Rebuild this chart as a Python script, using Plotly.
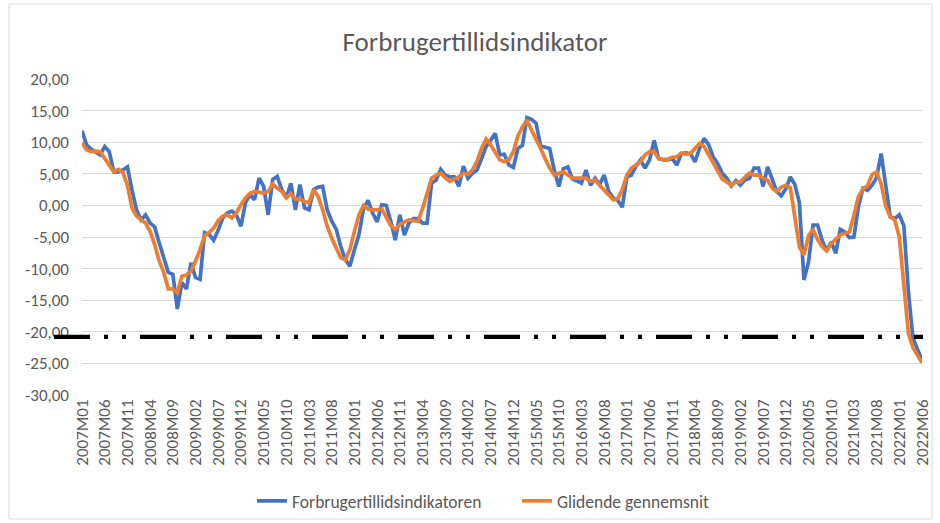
import plotly.graph_objects as go

# Month categories 2007M01 .. 2022M06
months = [f"{y}M{m:02d}" for y in range(2007, 2023) for m in range(1, 13)][:186]

indicator = [
    11.8, 9.6, 8.9, 8.5, 8.0, 9.3, 8.5, 5.3, 5.3, 5.6, 6.1, 2.5,
    -0.7, -2.3, -1.5, -2.8, -3.4, -5.9, -8.3, -10.6, -10.9, -16.4, -12.2, -13.2,
    -9.1, -11.4, -11.7, -4.3, -4.6, -5.5, -3.9, -2.0, -1.2, -0.9, -1.5, -3.3,
    0.4, 1.7, 0.9, 4.3, 3.0, -1.5, 4.1, 4.6, 2.5, 1.2, 3.5, -0.7,
    3.3, -0.4, -0.7, 2.5, 2.9, 3.0, -0.7, -2.5, -3.8, -6.5, -8.6, -9.6,
    -7.0, -4.6, -0.5, 0.8, -1.2, -2.6, 0.1, 0.0, -2.5, -5.5, -1.5, -4.7,
    -2.8, -2.1, -2.1, -2.8, -2.8, 3.5, 4.0, 5.7, 4.8, 4.5, 4.5, 3.0,
    6.2, 4.3, 5.1, 5.6, 7.4, 9.3, 10.3, 11.4, 8.0, 8.1, 6.4, 6.0,
    9.0, 9.5, 13.9, 13.6, 13.0, 9.4, 9.2, 9.0, 5.6, 3.0, 5.8, 6.1,
    4.2, 3.9, 3.5, 5.6, 3.2, 4.3, 3.3, 4.8, 2.2, 1.2, 0.8, -0.3,
    4.5, 4.8, 6.2, 7.2, 5.9, 7.2, 10.3, 7.4, 7.2, 7.2, 7.4, 6.4,
    8.2, 8.3, 8.2, 6.9, 9.0, 10.6, 9.6, 7.7, 6.6, 5.1, 4.3, 3.1,
    3.9, 3.2, 4.0, 4.3, 5.9, 5.9, 3.0, 6.1, 4.3, 2.2, 1.5, 2.6,
    4.5, 3.3, 0.4, -11.8, -9.0, -3.1, -3.1, -5.5, -7.2, -5.8, -7.6, -3.8,
    -4.2, -5.1, -5.0, -0.2, 2.7, 2.4, 3.2, 4.4, 8.2, 3.0, -1.8, -2.1,
    -1.5, -3.2, -13.6, -21.0, -22.9, -24.5,
]

moving_avg = [
    9.9, 8.8, 8.5, 8.6, 8.5, 7.4, 6.4, 5.3, 5.7, 5.2, 3.2, -0.4,
    -1.7, -2.3, -2.8, -4.1, -6.2, -8.8, -10.6, -13.2, -13.2, -13.8, -11.2, -11.0,
    -10.4, -8.8, -7.0, -4.8, -4.3, -3.6, -2.4, -1.7, -1.5, -2.0, -1.2, 0.1,
    1.2, 1.9, 2.2, 2.1, 1.9, 2.2, 3.4, 2.7, 2.2, 1.2, 1.9, 1.0,
    1.0, 0.6, 0.4, 2.5, 1.4, -0.7, -3.3, -5.2, -6.7, -8.3, -8.6, -7.0,
    -4.1, -1.5, 0.0, -0.6, -0.7, -0.7, -0.5, -2.0, -3.2, -3.8, -3.0, -2.6,
    -2.3, -2.4, -2.5, -0.5, 2.0, 4.3, 4.8, 5.1, 4.4, 3.8, 4.2, 4.5,
    5.1, 4.9, 5.6, 7.0, 9.0, 10.5, 9.6, 8.5, 7.2, 6.9, 7.2, 8.5,
    11.0, 12.4, 13.5, 11.9, 10.6, 9.0, 7.4, 5.9, 4.8, 5.1, 5.3, 4.8,
    4.3, 4.3, 4.3, 4.3, 3.8, 4.0, 3.2, 2.5, 1.7, 0.9, 1.1, 2.5,
    4.8, 5.9, 6.4, 6.9, 8.0, 8.5, 8.5, 7.4, 7.3, 7.3, 7.6, 7.7,
    8.3, 8.1, 8.2, 8.9, 9.8, 9.3, 8.0, 6.6, 5.3, 4.2, 3.7, 3.2,
    3.7, 3.7, 4.5, 5.1, 4.8, 4.8, 4.3, 4.0, 2.7, 2.2, 2.9, 3.2,
    2.8, -2.2, -6.6, -7.8, -4.8, -3.8, -5.4, -6.5, -7.2, -6.0, -5.4, -4.7,
    -4.4, -4.2, -1.6, 1.4, 2.6, 3.1, 4.9, 5.3, 3.4, -0.1, -1.8, -2.3,
    -5.0, -12.0, -20.2, -22.5, -23.6, -24.9,
]

reference_level = -20.8

y_tick_vals = [20, 15, 10, 5, 0, -5, -10, -15, -20, -25, -30]
y_tick_text = ["20,00", "15,00", "10,00", "5,00", "0,00", "-5,00", "-10,00",
               "-15,00", "-20,00", "-25,00", "-30,00"]
x_tick_labels = months[::5]

FONT = "Carlito, Lato, sans-serif"
TXT = "#595959"

fig = go.Figure()
fig.add_trace(go.Scatter(x=months, y=indicator, mode="lines",
                         name="Forbrugertillidsindikatoren", legend="legend",
                         line=dict(color="#4472C4", width=3.7)))
fig.add_trace(go.Scatter(x=months, y=moving_avg, mode="lines",
                         name="Glidende gennemsnit", legend="legend2",
                         line=dict(color="#ED7D31", width=3.7)))

# plot area: x 82..922, y 79..395 in a 940x523 canvas
L, R, T, B = 82, 18, 79, 128
W, H = 940 - L - R, 523 - T - B

def px(xp):
    return (xp - L) / W

def py(yp):
    return (523 - B - yp) / H

fig.add_shape(type="line", xref="paper", yref="y",
              x0=px(54), x1=px(923), y0=reference_level, y1=reference_level,
              line=dict(color="black", width=4.3,
                        dash="36px,14px,4px,14px,4px,14px"))
fig.add_shape(type="rect", xref="paper", yref="paper",
              x0=px(9), x1=px(932), y0=py(519), y1=py(4),
              line=dict(color="#d9d9d9", width=1), layer="below")

leg_common = dict(orientation="h", yanchor="middle", xanchor="left",
                  y=py(501), bgcolor="rgba(0,0,0,0)", borderwidth=0,
                  font=dict(family=FONT, size=17.5, color=TXT))

fig.update_layout(
    width=940, height=523,
    margin=dict(l=L, r=R, t=T, b=B, autoexpand=False),
    paper_bgcolor="white", plot_bgcolor="white",
    font=dict(family=FONT, size=17, color=TXT),
    title=dict(text="Forbrugertillidsindikator", x=475 / 940, xanchor="center",
               y=1 - 42 / 523, yanchor="middle",
               font=dict(family=FONT, size=27, color=TXT)),
    showlegend=True,
    legend=dict(x=px(252), **leg_common),
    legend2=dict(x=px(517), **leg_common),
    xaxis=dict(type="category", range=[0, len(months) - 1],
               tickmode="array", tickvals=x_tick_labels, ticktext=x_tick_labels,
               tickangle=-90, showgrid=False, showline=False, zeroline=False,
               ticks="", automargin=False,
               tickfont=dict(family=FONT, size=17, color=TXT)),
    yaxis=dict(range=[-30, 20], tickmode="array", tickvals=y_tick_vals,
               ticktext=y_tick_text, showgrid=True, gridcolor="#d9d9d9",
               gridwidth=1, zeroline=False, showline=False, ticks="",
               ticklabelstandoff=12, automargin=False,
               tickfont=dict(family=FONT, size=17, color=TXT)),
)

fig.write_html("out.html", config={"displayModeBar": False},
               post_script="document.body.style.margin='0px';"
                           "document.body.style.padding='0px';")
